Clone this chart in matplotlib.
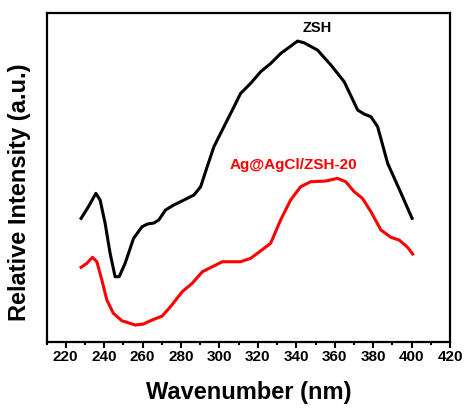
import matplotlib
matplotlib.use("Agg")
import numpy as np
import matplotlib.pyplot as plt
from matplotlib.ticker import MultipleLocator

# ZSH (black)
wn_zsh = [228, 231.8, 235.7, 237.9, 240.5, 243.1, 245.7, 247.8, 250.9, 255.3,
          259.7, 262.5, 265.8, 268.4, 271.9,
          276.2, 281.5, 286.7, 290.2, 293.6, 297.1, 302.3, 306.7, 311, 316.2,
          321.4, 326.7, 331.9, 337.1, 340.6, 344, 351, 358, 364.9, 371.9,
          375.3, 378.8, 382.3, 387.5, 394.5, 400.2]
int_zsh = [123.7, 135.3, 148.7, 142, 118.7, 88.7, 65.3, 65.3, 78.7, 103.7,
           115.3, 118, 119, 122, 132,
           137, 142, 147, 155.3, 175.3, 195.3, 215.3, 232, 248.7, 258.7,
           270.3, 278.7, 288.7, 296, 301, 299.3, 292, 277, 260.3, 232,
           228, 225.3, 215.3, 178.7, 148.7, 123.7]

# Ag@AgCl/ZSH-20 (red)
wn_ag = [228, 231, 233.9, 236.2, 238.8, 241.4, 244.8, 249.2, 256.2, 260.5,
         264.1, 270.2, 274.5, 280.6, 285.8, 291.1, 296.3, 301.5, 311, 316.2,
         323.2, 326.6, 331.8, 337, 342.2, 347.4, 355.3, 361.4, 365.7, 370.1,
         374.4, 378.8, 384, 389.2, 393.5, 397.9, 400.5]
int_ag = [74.7, 78.7, 84.7, 80.3, 62, 42, 28.7, 21.3, 17, 18,
          21.3, 26, 35.3, 50.3, 58.7, 70.3, 75.3, 80.3, 80.3, 83.7,
          93.7, 98.7, 122, 142, 155.3, 160.3, 161, 163.7, 160.3, 150.3,
          143.7, 130.3, 112, 104.7, 102, 94.7, 88]

plt.rcParams['font.family'] = ['Liberation Sans', 'DejaVu Sans']
plt.rcParams['font.weight'] = 'bold'

fig = plt.figure(figsize=(4.65, 4.09), dpi=100)
ax = fig.add_axes([0.1, 0.1638, 0.868, 0.8042])

ax.plot(wn_zsh, int_zsh, color='black', lw=2.2, solid_joinstyle='round')
ax.plot(wn_ag, int_ag, color='red', lw=2.2, solid_joinstyle='round')

ax.text(350.9, 314, "ZSH", color='black', fontsize=10.5, fontweight='bold',
        ha='center', va='center')
ax.text(338.7, 177, "Ag@AgCl/ZSH-20", color='red', fontsize=11,
        fontweight='bold', ha='center', va='center')

ax.set_xlim(210, 420)
ax.set_ylim(0, 329)
ax.xaxis.set_major_locator(MultipleLocator(20))
ax.xaxis.set_minor_locator(MultipleLocator(10))
ax.set_yticks([])
ax.tick_params(axis='x', which='major', direction='out', length=4, width=1.5,
               labelsize=11, pad=2)
ax.tick_params(axis='x', which='minor', direction='out', length=2.5, width=1.5)
for lab in ax.get_xticklabels():
    lab.set_fontweight('bold')
for s in ax.spines.values():
    s.set_linewidth(1.6)

ax.set_xlabel("Wavenumber (nm)", fontsize=17, fontweight='bold')
ax.set_ylabel("Relative Intensity (a.u.)", fontsize=17, fontweight='bold')
ax.xaxis.set_label_coords(0.5, -0.118)
ax.yaxis.set_label_coords(-0.038, 0.454)

fig.savefig("out.png", dpi=100)
plt.close()
